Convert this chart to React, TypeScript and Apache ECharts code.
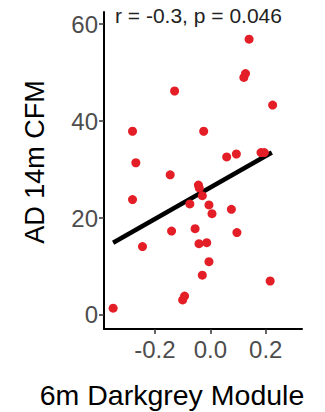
import React, { useEffect, useRef } from "react";
import * as echarts from "echarts";

const xValues = [0.140, 0.127, 0.121, -0.129, 0.225, -0.281, -0.024, 0.059, 0.094, 0.183, 0.195, -0.269, -0.145, -0.043, -0.040, -0.029, -0.281, -0.074, -0.005, 0.006, 0.076, -0.140, -0.055, 0.096, -0.041, -0.013, -0.245, -0.005, -0.029, 0.216, -0.093, -0.100, -0.351];
const yValues = [56.9, 49.8, 49.0, 46.2, 43.3, 37.9, 37.9, 32.6, 33.2, 33.5, 33.5, 31.4, 28.9, 26.8, 26.2, 24.6, 23.8, 22.9, 22.7, 20.9, 21.8, 17.3, 17.8, 17.0, 14.7, 14.9, 14.1, 11.0, 8.2, 7.0, 3.9, 3.1, 1.4];
const fitX = [-0.351, 0.222];
const fitY = [14.9, 33.5];
const xTicks = [-0.2, 0.0, 0.2];
const yTicks = [0, 20, 40, 60];
const annotation = "r = -0.3, p = 0.046";
const xTitle = "6m Darkgrey Module";
const yTitle = "AD 14m CFM";

export default function App() {
  const ref = useRef<HTMLDivElement>(null);
  useEffect(() => {
    if (!ref.current) return;
    const chart = echarts.init(ref.current, null, { renderer: "svg" });
    const font = "'Liberation Sans', Arial, sans-serif";
    chart.setOption({
      animation: false,
      backgroundColor: "#ffffff",
      grid: { left: 104, right: 23, top: 12, bottom: 83 },
      xAxis: {
        type: "value",
        min: -0.384,
        max: 0.331,
        splitLine: { show: false },
        axisLine: { show: true, onZero: false, lineStyle: { color: "#000", width: 2 } },
        axisTick: { show: true, customValues: xTicks, length: 5, lineStyle: { color: "#333", width: 1.5 } },
        axisLabel: {
          customValues: xTicks,
          formatter: (v: number) => v.toFixed(1),
          color: "#4d4d4d",
          fontSize: 24,
          fontFamily: font,
          margin: 8,
        },
      },
      yAxis: {
        type: "value",
        min: -2.9,
        max: 62.5,
        splitLine: { show: false },
        axisLine: { show: true, onZero: false, lineStyle: { color: "#000", width: 2 } },
        axisTick: { show: true, customValues: yTicks, length: 5, lineStyle: { color: "#333", width: 1.5 } },
        axisLabel: {
          customValues: yTicks,
          formatter: (v: number) => String(v),
          color: "#4d4d4d",
          fontSize: 24,
          fontFamily: font,
          margin: 6,
        },
      },
      series: [
        {
          type: "line",
          data: fitX.map((x, i) => [x, fitY[i]]),
          showSymbol: false,
          symbol: "none",
          lineStyle: { color: "#000", width: 4.5 },
          z: 2,
        },
        {
          type: "scatter",
          data: xValues.map((x, i) => [x, yValues[i]]),
          symbolSize: 9,
          itemStyle: { color: "#e41e26", opacity: 1 },
          z: 3,
        },
      ],
      graphic: [
        {
          type: "text",
          left: 115,
          top: 5,
          style: { text: annotation, fontSize: 21, fontFamily: font, fill: "#222" },
        },
        {
          type: "text",
          x: 172,
          y: 395,
          style: { text: xTitle, fontSize: 28.5, fontFamily: font, fill: "#000", align: "center", verticalAlign: "middle" },
        },
        {
          type: "text",
          x: 35,
          y: 162,
          rotation: Math.PI / 2,
          style: { text: yTitle, fontSize: 27, fontFamily: font, fill: "#000", align: "center", verticalAlign: "middle" },
        },
      ],
    });
    return () => chart.dispose();
  }, []);
  return <div ref={ref} style={{ position: "fixed", left: 0, top: 0, width: 325, height: 412 }} />;
}
